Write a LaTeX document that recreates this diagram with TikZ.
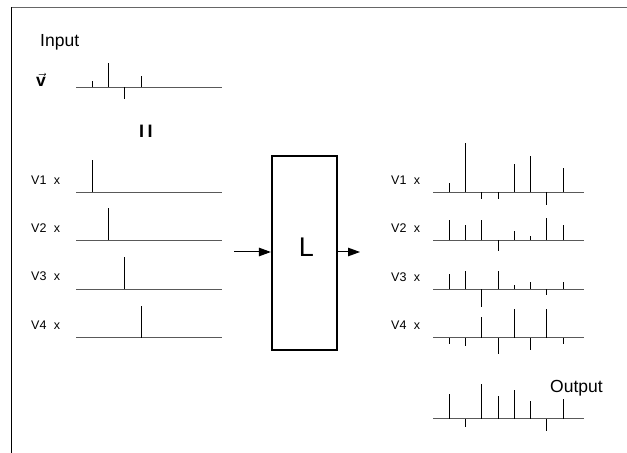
\documentclass[tikz,border=0pt]{standalone}
\usepackage{fontspec}
\setmainfont{Liberation Sans}
\usetikzlibrary{arrows.meta}
\newcommand\sigrow[4]{%
  \draw[axisline] (#1,#2) -- ++(#3,0);
  \foreach \h [count=\k] in {#4} {\draw[spike] ({floor(#1+16.25*\k)+0.5},#2) -- ({floor(#1+16.25*\k)+0.5},{#2-(\h)});}
}
\begin{document}
\begin{tikzpicture}[x=1bp,y=-1bp,
  axisline/.style={draw=black!65, line width=1.3bp},
  spike/.style={draw=black, line width=1.2bp},
  frameline/.style={line width=1.3bp},
  box/.style={draw, line width=1.6bp, minimum width=65bp, minimum height=194bp, inner sep=0pt},
  arr/.style={-{Triangle[length=12bp,width=8.5bp]}, line width=1bp},
  lab/.style={font=\fontsize{12.5bp}{14bp}\selectfont, anchor=base west, inner sep=0pt},
  big/.style={font=\fontsize{17.5bp}{20bp}\selectfont, anchor=base west, inner sep=0pt}]
\useasboundingbox (0,0) rectangle (627,453);
\fill[white] (0,0) rectangle (627,453);
% frame
\draw[frameline, black!60] (11.5,7.5) -- (627,7.5);
\draw[frameline] (11.5,7.5) -- (11.5,453);
% input
\node[big] (input) at (40,47) {Input};
\node[big] (vsym) at (36,87) {$\vec{\mbox{\bfseries v}}$};
\sigrow{76}{87.5}{146}{6.3,24,-12,11.7}
\node[font=\fontsize{18bp}{20bp}\selectfont\bfseries, anchor=base, inner sep=0pt] (eq) at (145.8,138) {I\hspace{3.5bp}I};
% left rows
\node[lab] (l1) at (31,184.5) {V1\hspace{7.5bp}x};
\node[lab] (l2) at (31,232.5) {V2\hspace{7.5bp}x};
\node[lab] (l3) at (31,281) {V3\hspace{7.5bp}x};
\node[lab] (l4) at (31,329.5) {V4\hspace{7.5bp}x};
\sigrow{76}{192.5}{146}{32}
\sigrow{76}{240.5}{146}{0,32}
\sigrow{76}{289.5}{146}{0,0,32}
\sigrow{76}{337.5}{146}{0,0,0,32}
% box and arrows
\node[box] (box) at (304.2,253) {};
\node[font=\fontsize{27bp}{30bp}\selectfont, inner sep=0pt] (Ltext) at (306.5,247) {L};
\coordinate (inS) at (234,252);
\coordinate (outE) at (360,252);
\draw[arr] (inS) -- (inS -| box.west);
\draw[arr] (box.east |- outE) -- (outE);
% right rows
\node[lab] (r1) at (391,185) {V1\hspace{7.5bp}x};
\node[lab] (r2) at (391,233) {V2\hspace{7.5bp}x};
\node[lab] (r3) at (391,281.5) {V3\hspace{7.5bp}x};
\node[lab] (r4) at (391,329.5) {V4\hspace{7.5bp}x};
\sigrow{433}{192.5}{151}{9.3,49.7,-6.3,-6.3,28.3,36.3,-12.7,24.7}
\sigrow{433}{240.5}{151}{20.7,15.3,20.7,-10.3,9.7,4.7,22.7,15.3}
\sigrow{433}{289.5}{151}{15.7,18.3,-17,18.3,4.7,7,-5.3,7}
\sigrow{433}{337.5}{151}{-6.3,-8,21,-16,29,-12,29,-6}
% output
\node[big] (output) at (550,392) {Output};
\sigrow{433}{418.5}{151}{24.7,-8,35,23,28.7,17.3,-12.7,19.3}
\end{tikzpicture}
\end{document}
